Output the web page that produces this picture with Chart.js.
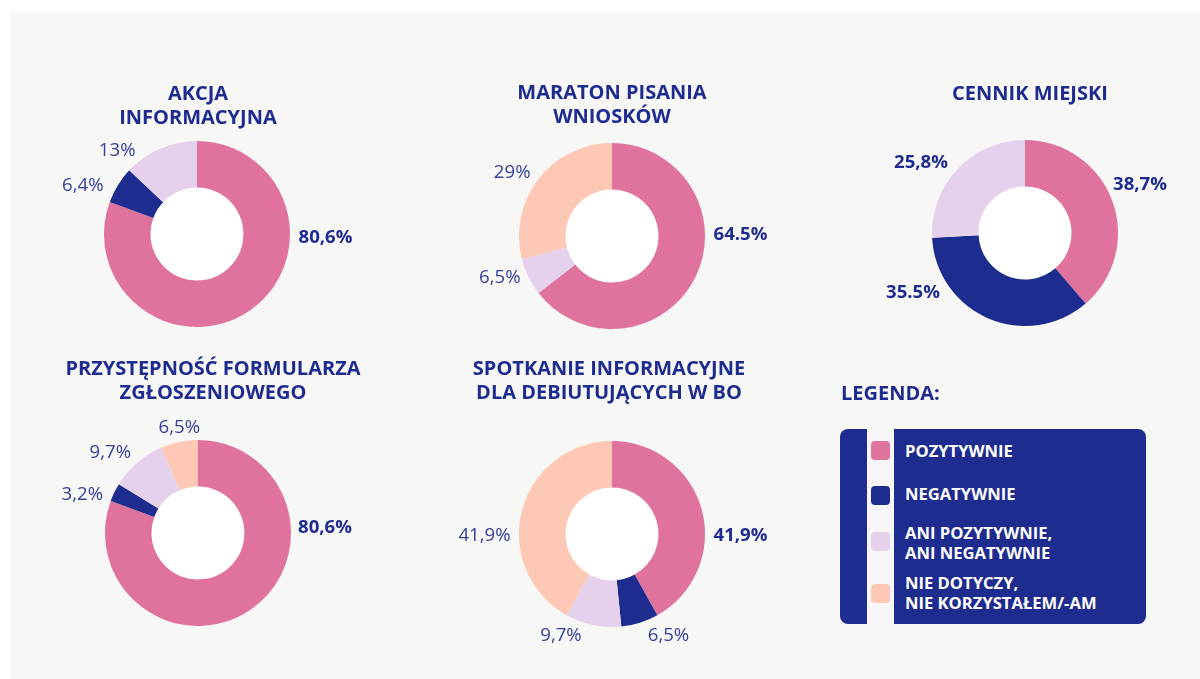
<!DOCTYPE html>
<html lang="pl">
<head>
<meta charset="utf-8">
<script src="https://cdn.jsdelivr.net/npm/chart.js@4.4.1/dist/chart.umd.min.js"></script>
<style>
  html, body { margin: 0; padding: 0; width: 1200px; height: 679px; overflow: hidden; background: #ffffff; font-family: "Open Sans", sans-serif; }
  #panel { position: absolute; left: 10px; top: 12px; width: 1190px; height: 667px; background: #f7f7f5; }
  .wrap { position: absolute; width: 380px; height: 260px; }
  .title { position: absolute; width: 400px; text-align: center; color: #1f2c8f; font-weight: 700; font-size: 20px; line-height: 24px; white-space: nowrap; }
  #legTitle { position: absolute; left: 841px; top: 381px; color: #1f2c8f; font-weight: 700; font-size: 20px; line-height: 24px; }
  #legBox { position: absolute; left: 840px; top: 429px; width: 306px; height: 195px; background: #1f2c8f; border-radius: 8px; overflow: hidden; }
  #legStrip { position: absolute; left: 27px; top: 0; width: 27px; height: 195px; background: #f6f6f8; }
  .sw { position: absolute; left: 31px; width: 19px; height: 19px; border-radius: 4px; }
  .lt { position: absolute; left: 65px; color: #ffffff; font-weight: 700; font-size: 16.6px; line-height: 20px; white-space: nowrap; }
</style>
</head>
<body>
<div id="panel"></div>
<div id="charts"></div>
<div id="legTitle">LEGENDA:</div>
<div id="legBox"><div id="legStrip"></div></div>
<script>
// ---- data ----
const categories = ['POZYTYWNIE', 'NEGATYWNIE', 'ANI POZYTYWNIE,\nANI NEGATYWNIE', 'NIE DOTYCZY,\nNIE KORZYSTAŁEM/-AM'];
const chartTitles = [
  ['AKCJA', 'INFORMACYJNA'],
  ['MARATON PISANIA', 'WNIOSKÓW'],
  ['CENNIK MIEJSKI'],
  ['PRZYSTĘPNOŚĆ FORMULARZA', 'ZGŁOSZENIOWEGO'],
  ['SPOTKANIE INFORMACYJNE', 'DLA DEBIUTUJĄCYCH W BO']
];
const akcjaValues     = [80.6, 6.4, 13, 0];
const maratonValues   = [64.5, 0, 6.5, 29];
const cennikValues    = [38.7, 35.5, 25.8, 0];
const formularzValues = [80.6, 3.2, 9.7, 6.5];
const spotkanieValues = [41.9, 6.5, 9.7, 41.9];
const akcjaLabels     = ['80,6%', '6,4%', '13%', null];
const maratonLabels   = ['64.5%', null, '6,5%', '29%'];
const cennikLabels    = ['38,7%', '35.5%', '25,8%', null];
const formularzLabels = ['80,6%', '3,2%', '9,7%', '6,5%'];
const spotkanieLabels = ['41,9%', '6,5%', '9,7%', '41,9%'];

// ---- styles / layout ----
const colors = ['#df739d', '#1f2c8f', '#e6d1ed', '#fdc8b6'];
const R = 93;
// per-chart: ring centre, title centre, title first-line centre, label placements [dx, dy, align, bold]
const layout = [
  { cx: 196.5, cy: 233.5, tx: 198, ty: 93,
    place: [[101.5, 3.5, 'left', true], [-93.5, -48.5, 'right', false], [-61.5, -83.5, 'right', false], null] },
  { cx: 611.5, cy: 236, tx: 612, ty: 92,
    place: [[101.5, -1, 'left', true], null, [-91.5, 42, 'right', false], [-81.5, -63, 'right', false]] },
  { cx: 1025, cy: 233, tx: 1030, ty: 93,
    place: [[88, -48, 'left', true], [-85, 60, 'right', true], [-77, -70, 'right', true], null] },
  { cx: 198, cy: 533, tx: 213, ty: 368,
    place: [[100, -5, 'left', true], [-95, -38, 'right', false], [-67, -80, 'right', false], [2, -105, 'right', false]] },
  { cx: 611.5, cy: 533.5, tx: 609, ty: 368,
    place: [[101.5, 1.5, 'left', true], [56.5, 101.5, 'center', false], [-51, 101.5, 'center', false], [-101.5, 1.5, 'right', false]] }
];
const seriesValues = [akcjaValues, maratonValues, cennikValues, formularzValues, spotkanieValues];
const seriesLabels = [akcjaLabels, maratonLabels, cennikLabels, formularzLabels, spotkanieLabels];

const W = 380, H = 260;
const holePlugin = {
  id: 'hole',
  beforeDatasetsDraw(chart) {
    const arc = chart.getDatasetMeta(0).data[0];
    if (!arc) return;
    const { x, y, innerRadius } = arc.getProps(['x', 'y', 'innerRadius'], true);
    const ctx = chart.ctx;
    ctx.save();
    ctx.beginPath();
    ctx.arc(x, y, innerRadius, 0, Math.PI * 2);
    ctx.fillStyle = '#ffffff';
    ctx.fill();
    ctx.restore();
  }
};
const valueLabelPlugin = {
  id: 'valueLabels',
  afterDatasetsDraw(chart, args, opts) {
    const arc = chart.getDatasetMeta(0).data[0];
    const { x, y } = arc.getProps(['x', 'y'], true);
    const ctx = chart.ctx;
    ctx.save();
    ctx.textBaseline = 'middle';
    opts.texts.forEach((t, i) => {
      const p = opts.place[i];
      if (!t || !p) return;
      ctx.font = (p[3] ? '700 ' : '400 ') + '18.6px "Open Sans"';
      ctx.fillStyle = p[3] ? '#1f2c8f' : '#35419a';
      ctx.textAlign = p[2];
      ctx.fillText(t, x + p[0], y + p[1]);
    });
    ctx.restore();
  }
};

const chartsDiv = document.getElementById('charts');
layout.forEach((L, k) => {
  const wrap = document.createElement('div');
  wrap.className = 'wrap';
  wrap.style.left = (L.cx - W / 2) + 'px';
  wrap.style.top = (L.cy - H / 2) + 'px';
  const cv = document.createElement('canvas');
  cv.width = W; cv.height = H;
  wrap.appendChild(cv);
  chartsDiv.appendChild(wrap);

  const t = document.createElement('div');
  t.className = 'title';
  t.style.left = (L.tx - 200) + 'px';
  t.style.top = (L.ty - 12) + 'px';
  t.innerHTML = chartTitles[k].join('<br>');
  chartsDiv.appendChild(t);

  new Chart(cv, {
    type: 'doughnut',
    data: {
      labels: categories,
      datasets: [{ data: seriesValues[k], backgroundColor: colors, borderWidth: 0, hoverOffset: 0 }]
    },
    options: {
      responsive: false,
      animation: false,
      cutout: '50%',
      layout: { padding: { left: W / 2 - R, right: W / 2 - R, top: H / 2 - R, bottom: H / 2 - R } },
      plugins: {
        legend: { display: false },
        tooltip: { enabled: false },
        valueLabels: { texts: seriesLabels[k], place: L.place }
      }
    },
    plugins: [holePlugin, valueLabelPlugin]
  });
});

// legend (built from categories + colours)
const legBox = document.getElementById('legBox');
const swTop = [12, 57, 103, 155];
const txtTop = [12, 55, 94, 144];
categories.forEach((c, i) => {
  const s = document.createElement('div');
  s.className = 'sw';
  s.style.top = swTop[i] + 'px';
  s.style.background = colors[i];
  legBox.appendChild(s);
  const l = document.createElement('div');
  l.className = 'lt';
  l.style.top = txtTop[i] + 'px';
  l.innerHTML = c.replace('\n', '<br>');
  legBox.appendChild(l);
});
</script>
</body>
</html>
